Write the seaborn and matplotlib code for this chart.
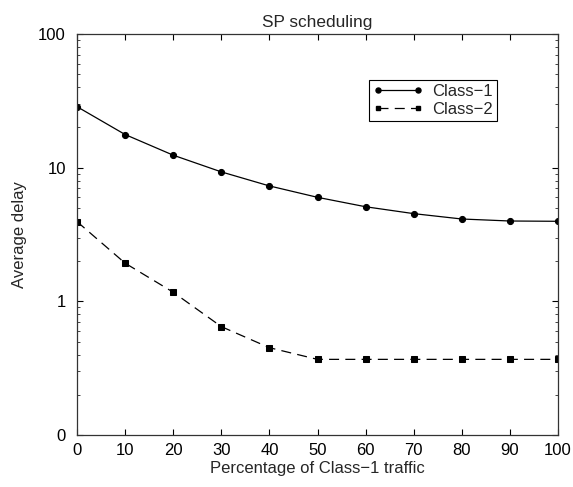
import matplotlib
matplotlib.use("Agg")
import matplotlib.pyplot as plt
import seaborn as sns
import pandas as pd
from matplotlib.ticker import FixedLocator, LogLocator, NullFormatter
from matplotlib.lines import Line2D

x_vals = [0, 10, 20, 30, 40, 50, 60, 70, 80, 90, 100]
class1 = [28.6, 17.7, 12.4, 9.3, 7.3, 6.0, 5.1, 4.53, 4.13, 3.99, 3.97]
class2 = [3.95, 1.93, 1.17, 0.647, 0.45, 0.368, 0.368, 0.368, 0.368, 0.368, 0.368]
y_ticks = [0.1, 1, 10, 100]
y_tick_labels = ["0", "1", "10", "100"]
series_names = ["Class\u22121", "Class\u22122"]

df = pd.DataFrame({
    "x": x_vals * 2,
    "y": class1 + class2,
    "series": [series_names[0]] * len(x_vals) + [series_names[1]] * len(x_vals),
})

sns.set_style("ticks")
plt.rcParams["font.family"] = ["Liberation Sans", "DejaVu Sans"]
plt.rcParams["font.size"] = 12

fig = plt.figure(figsize=(5.73, 4.87), dpi=100)
ax = fig.add_axes([77/573, 1 - 435/487, (558-77)/573, (435-34)/487])

dash = (8, 5)
sns.lineplot(data=df, x="x", y="y", hue="series", style="series",
             palette=["black", "black"], dashes=[(None, None), dash],
             markers=["o", "s"], markersize=4.4, linewidth=0.9,
             markeredgecolor="black", ax=ax, legend=False)

ax.set_yscale("log")
ax.set_xlim(0, 100)
ax.set_ylim(0.1, 100)
ax.set_xticks(x_vals)
ax.yaxis.set_major_locator(FixedLocator(y_ticks))
ax.set_yticklabels(y_tick_labels)
ax.yaxis.set_minor_locator(LogLocator(base=10, subs=range(2, 10)))
ax.yaxis.set_minor_formatter(NullFormatter())
ax.tick_params(which="major", direction="in", top=True, right=True, length=4, width=0.8,
               labelsize=12, colors="black")
ax.tick_params(axis="y", which="major", pad=8)
ax.tick_params(axis="x", which="major", pad=6)
ax.tick_params(which="minor", direction="in", top=False, right=True, length=2.5, width=0.6)
for s in ax.spines.values():
    s.set_linewidth(0.9)
    s.set_color("#333333")

ax.set_xlabel("Percentage of Class\u22121 traffic", fontsize=12, labelpad=2)
ax.set_ylabel("Average delay", fontsize=12, labelpad=8)
ax.set_title("SP scheduling", fontsize=12.4, pad=5)

handles = [
    Line2D([], [], color="black", marker="o", markersize=3.6, linewidth=0.9),
    Line2D([], [], color="black", marker="s", markersize=3.2, linewidth=0.9, dashes=dash),
]
leg = ax.legend(handles, series_names, loc="upper right", bbox_to_anchor=(0.8726, 0.885),
                numpoints=2, handlelength=3.0, fancybox=False, framealpha=1,
                edgecolor="black", fontsize=12, borderpad=0.25, labelspacing=0.15,
                handletextpad=0.5, borderaxespad=0)
leg.get_frame().set_linewidth(0.8)

fig.savefig("out.png", dpi=100)
